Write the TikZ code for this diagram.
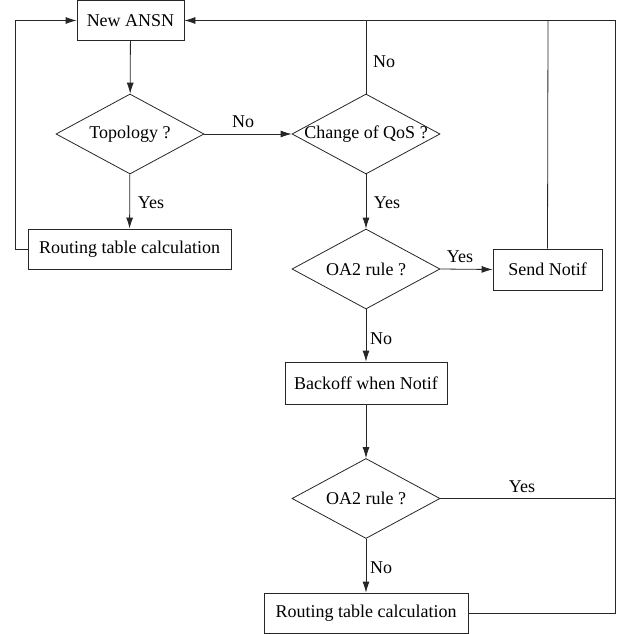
\documentclass[tikz,border=0pt]{standalone}
\usepackage{fontspec}
\setmainfont{Liberation Serif}
\usetikzlibrary{shapes.geometric,arrows.meta}
\begin{document}
\begin{tikzpicture}[x=1pt,y=-1pt,
  every node/.style={font=\fontsize{18}{21}\selectfont},
  box/.style={draw,rectangle,inner sep=0pt,minimum height=40pt},
  dia/.style={draw,diamond,inner sep=0pt,minimum width=148pt,minimum height=80pt},
  lbl/.style={inner sep=0pt},
  line/.style={line width=0.8pt,draw=black!85},
  arr/.style={line,-{Latex[length=11pt,width=7pt]}}]
\useasboundingbox (0,0) rectangle (616,634);
\node[box,line,minimum width=107pt] (ansn) at (130.5,20.5) {New ANSN};
\node[dia,line] (topo) at (130,134) {};
\node[lbl] (topot) at (topo) {Topology ?};
\node[box,line,minimum width=203pt] (rt1) at (129.5,249) {Routing table calculation};
\node[dia,line] (qos) at (366,134) {};
\node[lbl] (qost) at (qos) {Change of QoS ?};
\node[dia,line] (oa1) at (366,269) {};
\node[lbl] (oa1t) at (oa1) {OA2 rule ?};
\node[box,line,minimum width=109pt,minimum height=41pt] (send) at (547.5,269.5) {Send Notif};
\node[box,line,minimum width=162pt,minimum height=42pt] (back) at (366,383) {Backoff when Notif};
\node[dia,line] (oa2) at (366,498.5) {};
\node[lbl] (oa2t) at (oa2) {OA2 rule ?};
\node[box,line,minimum width=204pt] (rt2) at (366,613) {Routing table calculation};
\coordinate (tr) at (615,20.5);
\coordinate (qtop) at (366,20.5);
\coordinate (stop) at (548,20.5);
\coordinate (ll) at (15,249);
% labels
\node[lbl] (l1) at (243,122) {No};
\node[lbl] (l2) at (384,62) {No};
\node[lbl] (l3) at (151,203) {Yes};
\node[lbl] (l4) at (387,203) {Yes};
\node[lbl] (l5) at (460,257) {Yes};
\node[lbl] (l6) at (381,339) {No};
\node[lbl] (l7) at (522,487) {Yes};
\node[lbl] (l8) at (381,568) {No};
% connectors
\draw[arr] (ansn) -- (topo);
\draw[arr] (topo) -- (rt1);
\draw[arr] (rt1.west) -- (ll) |- (ansn.west);
\draw[arr] (topo.east) -- (qos.west);
\draw[arr] (qos) -- (oa1);
\draw[arr] (oa1.east) -- (send.west);
\draw[arr] (oa1) -- (back);
\draw[arr] (back) -- (oa2);
\draw[arr] (oa2) -- (rt2);
\draw[arr] (tr) -- (ansn.east);
\draw[line] (qos.north) -- (qtop);
\draw[line] (send.north) -- (stop);
\draw[line] (oa2.east) -- (oa2.east -| tr);
\draw[line] (rt2.east) -| (tr);
\end{tikzpicture}
\end{document}
